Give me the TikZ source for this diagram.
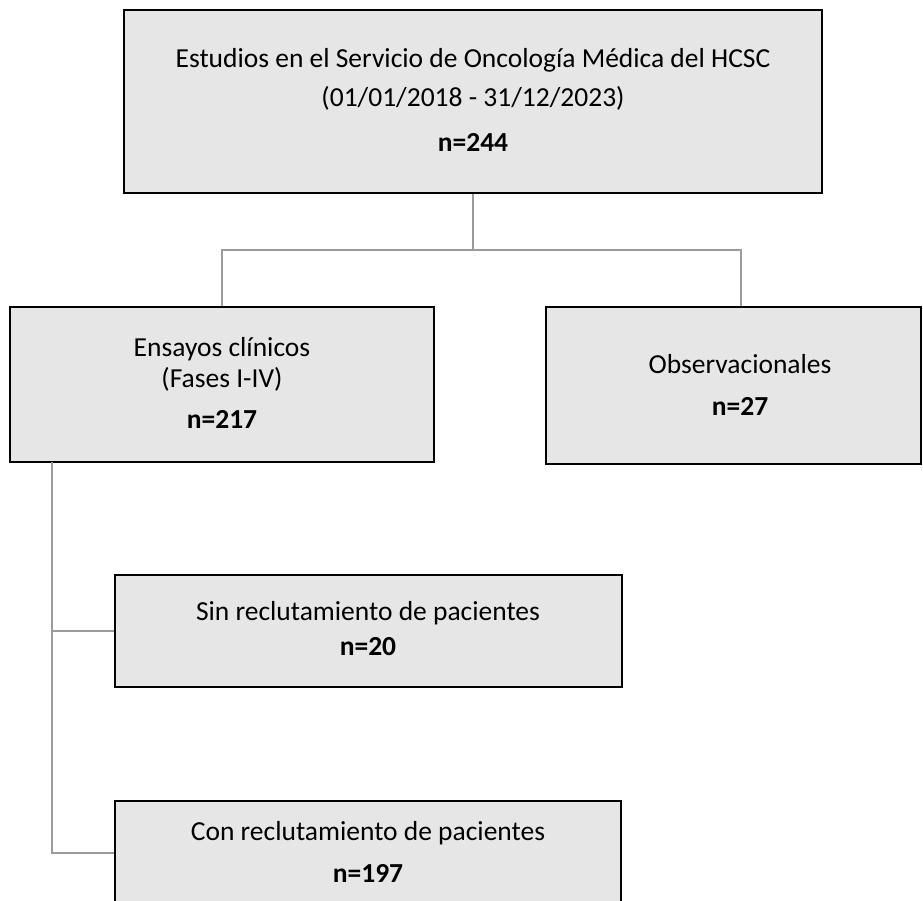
\documentclass[tikz,border=0pt]{standalone}
\usepackage{fontspec}
\setmainfont{Carlito}
\definecolor{boxfill}{RGB}{230,230,230}
\definecolor{connc}{RGB}{155,155,155}
\begin{document}
\begin{tikzpicture}[x=1pt,y=-1pt,
  boxst/.style={draw=black, line width=2pt, fill=boxfill, rectangle, inner sep=0pt},
  conn/.style={draw=connc, line width=2pt},
  txt/.style={anchor=base, inner sep=0pt, font=\fontsize{27.5}{33}\selectfont}]
\path[use as bounding box, clip] (0,0) rectangle (923,901);
% boxes
\node[boxst, minimum width=698pt, minimum height=183pt] (top) at (473,101.5) {};
\node[boxst, minimum width=424pt, minimum height=155pt] (left) at (222,384.5) {};
\node[boxst, minimum width=375pt, minimum height=157pt] (right) at (733.5,385.5) {};
\node[boxst, minimum width=507pt, minimum height=112pt] (sin) at (368.5,631) {};
\node[boxst, minimum width=506pt, minimum height=104pt] (con) at (368,853) {};
% texts
\node[txt] (t1) at (473,68) {Estudios en el Servicio de Oncología Médica del HCSC};
\node[txt] (t2) at (473,107) {(01/01/2018 - 31/12/2023)};
\node[txt] (t3) at (473,152) {\bfseries n=244};
\node[txt] (l1) at (222,356) {Ensayos clínicos};
\node[txt] (l2) at (222,387) {(Fases I-IV)};
\node[txt] (l3) at (222,428) {\bfseries n=217};
\node[txt] (r1) at (740,373) {Observacionales};
\node[txt] (r2) at (740,415) {\bfseries n=27};
\node[txt] (s1) at (368,620) {Sin reclutamiento de pacientes};
\node[txt] (s2) at (368,655) {\bfseries n=20};
\node[txt] (c1) at (368,840) {Con reclutamiento de pacientes};
\node[txt] (c2) at (368,882) {\bfseries n=197};
% connectors
\coordinate (bus) at (473,250);
\coordinate (rdrop) at (741,250);
\coordinate (trunk) at (52,462);
\draw[conn] (top.south) -- (bus);
\draw[conn] (left.north) -- (left.north |- bus) -- (rdrop) -- (rdrop |- right.north);
\draw[conn] (trunk) |- (con.west);
\draw[conn] (trunk |- sin.west) -- (sin.west);
\end{tikzpicture}
\end{document}
